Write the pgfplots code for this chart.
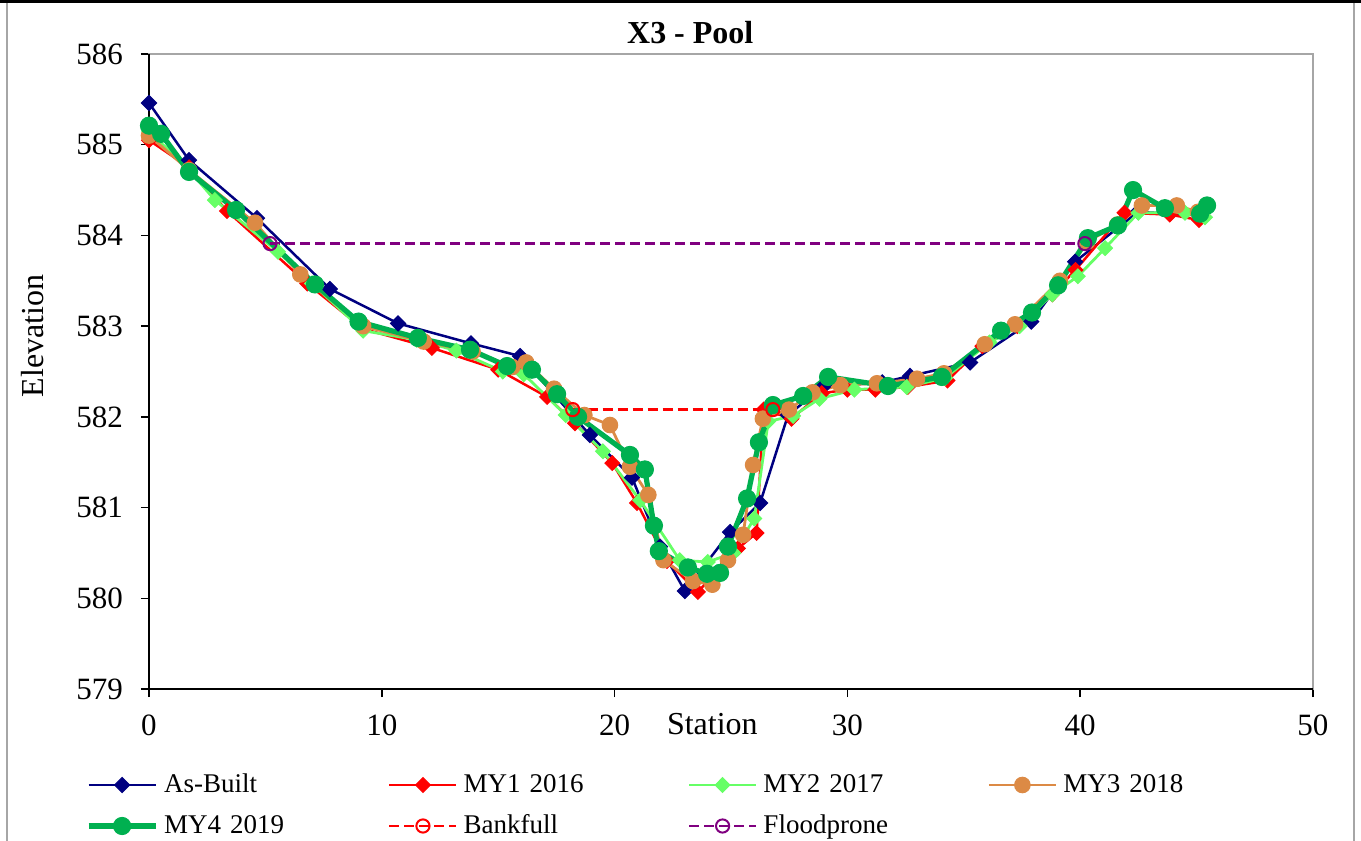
\documentclass[border=0pt]{standalone}
\usepackage{fontspec}
\setmainfont{Liberation Serif}
\usepackage{pgfplots}
\pgfplotsset{compat=1.18}
\definecolor{asbuilt}{HTML}{000080}
\definecolor{myone}{HTML}{FF0000}
\definecolor{mytwo}{HTML}{66FF66}
\definecolor{mythree}{HTML}{DC8A45}
\definecolor{myfour}{HTML}{00B050}
\definecolor{flood}{HTML}{800080}
\begin{document}
\begin{tikzpicture}
\useasboundingbox (-74.5pt,-76pt) rectangle (606pt,344.5pt);
\begin{axis}[
  scale only axis, width=582pt, height=317.5pt,
  xmin=0, xmax=50, ymin=579, ymax=586,
  xtick={0,10,...,50}, ytick={579,...,586},
  tick align=outside, major tick length=4pt,
  xtick pos=bottom, ytick pos=left,
  /pgf/number format/assume math mode=true,
  /pgf/number format/1000 sep={},
  ticklabel style={font=\fontsize{15.5}{18}\selectfont},
  xticklabel style={yshift=-5.5pt},
  yticklabel style={xshift=-5.5pt},
  axis line style={draw=gray!70, line width=0.75pt},
  major tick style={black, line width=0.75pt},
  clip=false,
  title={X3 - Pool},
  title style={font=\fontsize{16}{19}\selectfont\bfseries, at={(axis description cs:0.465,0.997)}, anchor=base},
  xlabel={Station},
  xlabel style={font=\fontsize{16}{19}\selectfont, at={(axis description cs:0.484,-0.056)}, anchor=center},
  ylabel={Elevation},
  ylabel style={font=\fontsize{16}{19}\selectfont, at={(axis description cs:-0.0997,0.556)}, anchor=center},
  legend columns=4, legend cell align=left,
  legend image code/.code={\draw[mark repeat=2,mark phase=2] plot coordinates {(0pt,0pt) (16.75pt,0pt) (33.5pt,0pt)};},
  legend style={at={(axis description cs:0,0)}, anchor=north west, xshift=-31.5pt, yshift=-41.5pt,
    draw=none, fill=none, inner sep=0pt, outer sep=0pt, row sep=7.5pt,
    font=\fontsize{13.5}{16}\selectfont,
    nodes={text width=110pt, align=left, text height=10pt, text depth=3pt, inner xsep=2pt, inner ysep=0pt},
    /tikz/every odd column/.append style={column sep=1pt}},
]
\addplot[asbuilt, line width=1.25pt, mark=diamond*, mark size=3.8pt, mark options={xscale=1.33, fill=asbuilt, line width=0.5pt}] coordinates {
(0,585.46) (1.72,584.83) (4.64,584.19) (7.77,583.41) (10.7,583.03) (13.83,582.81) (15.94,582.67)
(18.94,581.80) (20.75,581.33) (21.95,580.57) (23.02,580.08) (24.96,580.73) (26.25,581.05)
(27.45,582.02) (28.95,582.33) (31.5,582.38) (32.69,582.45) (35.27,582.6) (37.9,583.05)
(39.78,583.71) (42.48,584.26) (45.2,584.22)};
\addlegendentry{As-Built}
\addplot[myone, line width=1.25pt, mark=diamond*, mark size=3.7pt, mark options={xscale=1.33, fill=myone, line width=0.5pt}] coordinates {
(0,585.05) (1.72,584.75) (3.35,584.27) (6.8,583.47) (9.2,582.97) (12.15,582.76) (15.0,582.52)
(17.1,582.22) (18.3,581.93) (19.9,581.49) (20.96,581.05) (22.25,580.41) (23.58,580.07)
(25.3,580.55) (26.1,580.72) (26.4,582.08) (27.6,581.98) (28.9,582.26) (30.0,582.3) (31.2,582.3)
(32.6,582.33) (34.3,582.4) (35.8,582.78) (37.3,583.0) (38.8,583.35) (39.8,583.62) (41.9,584.25)
(43.85,584.23) (45.1,584.17)};
\addlegendentry{MY1 2016}
\addplot[mytwo, line width=1.4pt, mark=diamond*, mark size=3.7pt, mark options={xscale=1.33, fill=mytwo, line width=0.5pt}] coordinates {
(0,585.15) (1.72,584.72) (2.83,584.39) (5.54,583.82) (7.0,583.47) (9.2,582.95) (11.5,582.85)
(13.2,582.73) (15.2,582.5) (16.1,582.47) (17.9,582.02) (19.5,581.62) (21.1,581.08) (22.8,580.42)
(24.0,580.40) (25.1,580.5) (26.0,580.88) (26.6,581.95) (27.67,582.01) (28.8,582.2) (30.3,582.3)
(32.55,582.33) (34.2,582.43) (36.1,582.82) (37.4,583.0) (38.8,583.35) (39.9,583.55) (41.07,583.86)
(42.5,584.25) (44.5,584.25) (45.36,584.2)};
\addlegendentry{MY2 2017}
\addplot[mythree, line width=1.4pt, mark=*, mark size=3.9pt, mark options={fill=mythree, line width=0.5pt}] coordinates {
(0,585.1) (1.72,584.72) (4.55,584.14) (6.5,583.57) (9.2,583.0) (11.8,582.83) (13.9,582.72)
(15.6,582.55) (16.2,582.6) (17.4,582.31) (18.7,582.02) (19.8,581.91) (20.66,581.45) (21.45,581.14)
(22.1,580.42) (23.37,580.19) (24.2,580.15) (24.87,580.42) (25.52,580.70) (25.95,581.47)
(26.37,581.98) (27.49,582.08) (28.5,582.27) (29.7,582.35) (31.27,582.37) (32.99,582.42)
(34.15,582.48) (35.9,582.8) (37.2,583.02) (39.13,583.5) (40.3,583.93) (41.6,584.12)
(42.65,584.33) (44.15,584.33) (45.06,584.26)};
\addlegendentry{MY3 2018}
\addplot[myfour, line width=2.6pt, mark=*, mark size=4.3pt, mark options={fill=myfour, line width=0.5pt}] coordinates {
(0,585.21) (0.52,585.12) (1.72,584.70) (3.74,584.28) (7.13,583.46) (9.0,583.05) (11.55,582.87)
(13.79,582.74) (15.38,582.56) (16.45,582.52) (17.53,582.25) (18.43,582.0) (20.66,581.58)
(21.3,581.42) (21.69,580.80) (21.9,580.52) (23.15,580.34) (23.97,580.27) (24.53,580.28)
(24.87,580.57) (25.69,581.10) (26.2,581.72) (26.8,582.13) (28.1,582.23) (29.17,582.44)
(31.74,582.34) (34.06,582.44) (36.6,582.95) (37.93,583.15) (39.05,583.45) (40.33,583.97)
(41.62,584.11) (42.27,584.50) (43.64,584.30) (45.15,584.24) (45.45,584.33)};
\addlegendentry{MY4 2019}
\addplot[myone, line width=1.25pt, dash pattern=on 5pt off 2.5pt, mark=o, mark size=3.3pt, mark options={solid, line width=1pt}] coordinates {
(18.2,582.08) (26.8,582.08)};
\addlegendentry{Bankfull}
\addplot[flood, line width=1.25pt, dash pattern=on 5pt off 2.5pt, mark=o, mark size=3.3pt, mark options={solid, line width=1pt}] coordinates {
(5.2,583.91) (40.2,583.91)};
\addlegendentry{Floodprone}
\draw[black, line width=0.75pt] (rel axis cs:0,1) -- (rel axis cs:0,0) -- (rel axis cs:1,0);
\end{axis}
\draw[gray!70, line width=0.75pt] (-71pt,-76pt) -- (-71pt,343.5pt);
\draw[gray!70, line width=0.75pt] (602.5pt,-76pt) -- (602.5pt,343.5pt);
\draw[black, line width=1.5pt] (-74.5pt,343.7pt) -- (606pt,343.7pt);
\end{tikzpicture}
\end{document}
